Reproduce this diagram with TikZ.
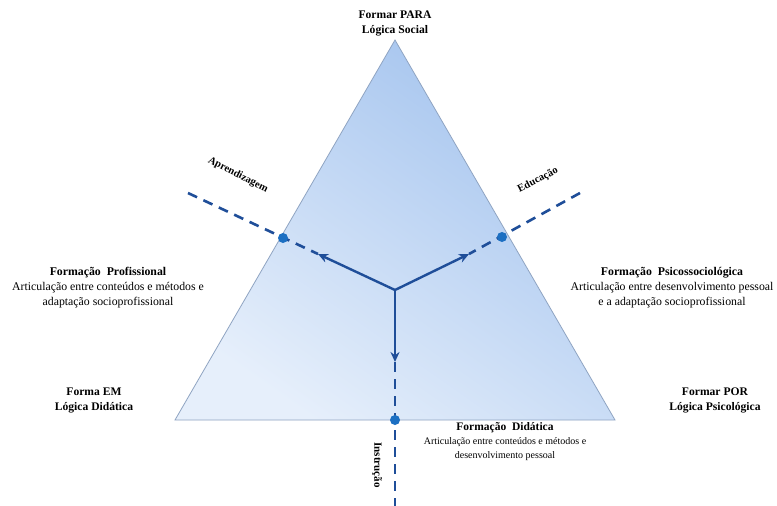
\documentclass[tikz,border=0pt]{standalone}
\usepackage{fontspec}
\setmainfont{Liberation Serif}
\usetikzlibrary{arrows.meta}
\definecolor{navy}{HTML}{1F4E99}
\definecolor{dotblue}{HTML}{1C6FC2}
\definecolor{triedge}{HTML}{8FA4C2}
\definecolor{trilight}{HTML}{E6EFFB}
\definecolor{tridark}{HTML}{A3C3EE}
\tikzset{
  axisline/.style={navy, line width=2.6pt, dash pattern=on 10pt off 7pt},
  axisarrow/.style={navy, line width=2.4pt, -{Stealth[length=10pt,width=9pt]}},
  pole/.style={circle, fill=dotblue, inner sep=0pt, minimum size=10pt},
  caption/.style={align=center, font=\fontsize{11.8}{15}\selectfont, inner sep=0pt},
  smallcaption/.style={align=center, font=\fontsize{10}{14}\selectfont, inner sep=0pt},
  corner/.style={align=center, font=\bfseries\fontsize{11.6}{15}\selectfont, inner sep=0pt},
  axislabel/.style={font=\bfseries\fontsize{10.5}{11}\selectfont, inner sep=0pt}
}
\begin{document}
\begin{tikzpicture}[x=1pt, y=-1pt]
\useasboundingbox (0,0) rectangle (777,506);
\fill[white] (0,0) rectangle (777,506);

% triangle with diagonal gradient
\coordinate (A) at (395,40);
\coordinate (B) at (175,420);
\coordinate (C) at (615,420);
\shade[top color=tridark, bottom color=trilight, shading angle=-35] (A) -- (B) -- (C) -- cycle;
\draw[triedge, line width=0.8pt] (A) -- (B) -- (C) -- cycle;

% centre and axis points
\coordinate (O) at (395,290);
\coordinate (Lend) at (188,193);
\coordinate (Rend) at (580,193);
\coordinate (Dend) at (395,506);
\coordinate (Ltip) at (318,254);
\coordinate (Rtip) at (469,254);
\coordinate (Dtip) at (395,362);

% dashed axes
\draw[axisline] (Lend) -- (Ltip);
\draw[axisline] (Rend) -- (Rtip);
\draw[axisline] (Dtip) -- (Dend);

% solid arrows from the centre
\draw[axisarrow] (O) -- (Ltip);
\draw[axisarrow] (O) -- (Rtip);
\draw[axisarrow] (O) -- (Dtip);

% poles on the triangle edges
\node[pole] (pL) at (283,238) {};
\node[pole] (pR) at (502,237) {};
\node[pole] (pD) at (395,420) {};

% axis labels
\node[axislabel, rotate=-27] (lApr) at (238,175) {Aprendizagem};
\node[axislabel, rotate=27] (lEdu) at (538,180) {Educação};
\node[axislabel, rotate=-90, font=\bfseries\fontsize{11}{12}\selectfont] (lIns) at (377,465) {Instrução};

% corner labels
\node[corner] (top) at (395,23) {Formar PARA\\Lógica Social};
\node[corner] (bl) at (94,400) {Forma EM\\Lógica Didática};
\node[corner] (br) at (715,400) {Formar POR\\Lógica Psicológica};

% side captions
\node[caption] (cL) at (108,288) {\textbf{Formação\ \ Profissional}\\Articulação entre conteúdos e métodos e\\adaptação socioprofissional};
\node[caption] (cR) at (672,288) {\textbf{Formação\ \ Psicossociológica}\\Articulação entre desenvolvimento pessoal\\e a adaptação socioprofissional};
\node[smallcaption] (cD) at (505,442) {{\bfseries\fontsize{11.5}{14}\selectfont Formação\ \ Didática}\\Articulação entre conteúdos e métodos e\\desenvolvimento pessoal};
\end{tikzpicture}
\end{document}
